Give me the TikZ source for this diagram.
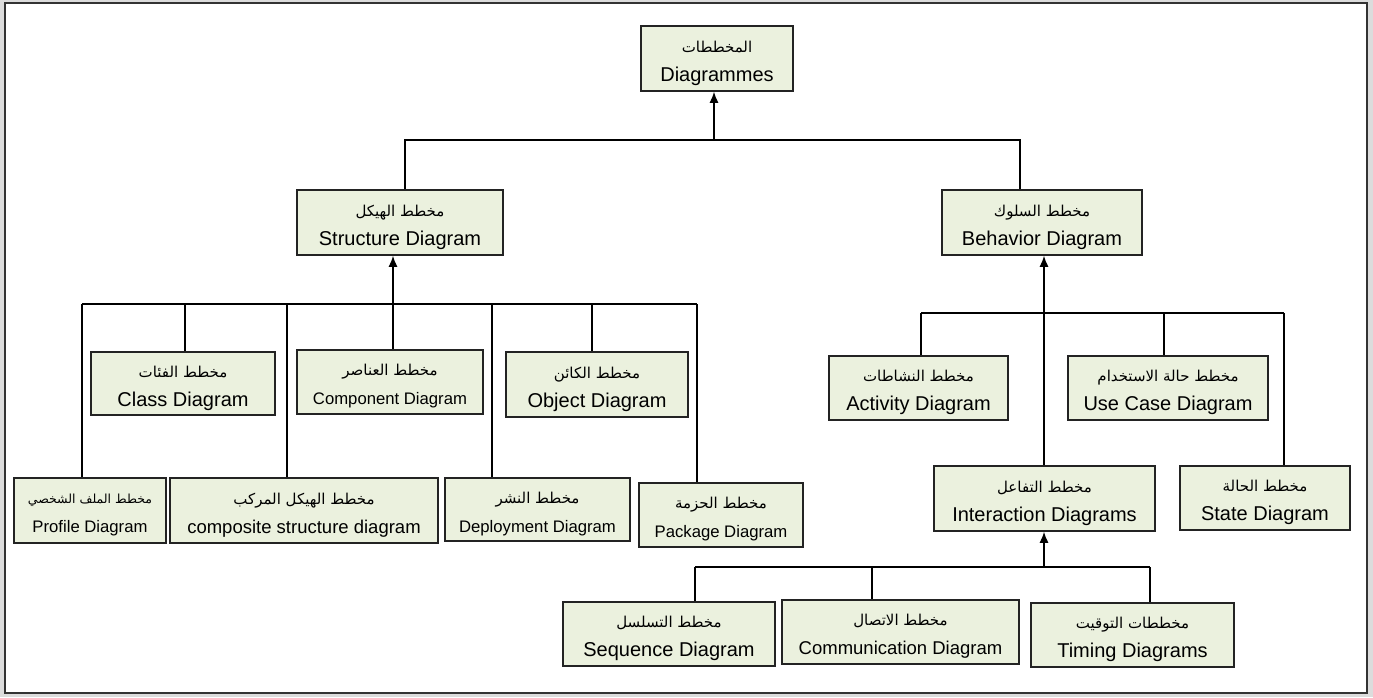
\documentclass[tikz,border=0pt]{standalone}
\usepackage{fontspec}
\setmainfont{Liberation Sans}
\newfontfamily\arfont[Script=Arabic]{DejaVu Sans}
\TeXXeTstate=1
\usetikzlibrary{arrows.meta}
\definecolor{boxfill}{RGB}{235,241,222}
\definecolor{boxline}{RGB}{35,35,35}
\definecolor{pagegray}{RGB}{220,220,220}
\newcommand{\bx}[4][15]{\raisebox{0pt}[\dimexpr\height+9pt\relax]{\arfont\fontsize{#1}{29}\selectfont\beginR #2\endR}\\{\fontsize{#4}{29}\selectfont #3}}
\tikzset{
  ubox/.style={draw=boxline, fill=boxfill, line width=1.6pt, inner sep=0pt, align=center, font=\fontsize{20}{29}\selectfont},
  conn/.style={draw=black, line width=1.3pt},
  arr/.style={conn, -{Latex[length=11pt,width=9pt]}}
}
\begin{document}
\begin{tikzpicture}[x=1pt,y=-1pt]
\useasboundingbox (0,0) rectangle (1373,697);
\fill[pagegray] (0,0) rectangle (1373,697);
\draw[fill=white, line width=1.5pt, draw=black!80] (5,3) rectangle (1367,693);

% nodes
\node[ubox, minimum width=152pt, minimum height=65pt] (diag) at (717,58.5) {\bx{المخططات}{Diagrammes}{20}};
\node[ubox, minimum width=206pt, minimum height=65pt] (struct) at (400,222.5) {\bx{مخطط الهيكل}{Structure Diagram}{20}};
\node[ubox, minimum width=200pt, minimum height=65pt] (behav) at (1042,222.5) {\bx{مخطط السلوك}{Behavior Diagram}{20}};

\node[ubox, minimum width=184pt, minimum height=63pt] (class) at (183,383.5) {\bx{مخطط الفئات}{Class Diagram}{20}};
\node[ubox, minimum width=186pt, minimum height=64pt] (comp) at (390,382) {\bx{مخطط العناصر}{Component Diagram}{16.7}};
\node[ubox, minimum width=182pt, minimum height=65pt] (obj) at (597,384.5) {\bx{مخطط الكائن}{Object Diagram}{20}};

\node[ubox, minimum width=152pt, minimum height=65pt] (prof) at (90,510.5) {\bx[12.5]{مخطط الملف الشخصي}{Profile Diagram}{16.7}};
\node[ubox, minimum width=268pt, minimum height=65pt] (compo) at (304,510.5) {\bx{مخطط الهيكل المركب}{composite structure diagram}{18.5}};
\node[ubox, minimum width=185pt, minimum height=63pt] (depl) at (537.5,509.5) {\bx{مخطط النشر}{Deployment Diagram}{16.7}};
\node[ubox, minimum width=164pt, minimum height=64pt] (pack) at (721,515) {\bx{مخطط الحزمة}{Package Diagram}{16.7}};

\node[ubox, minimum width=179pt, minimum height=64pt] (act) at (918.5,388) {\bx{مخطط النشاطات}{Activity Diagram}{20}};
\node[ubox, minimum width=200pt, minimum height=64pt] (use) at (1168,388) {\bx{مخطط حالة الاستخدام}{Use Case Diagram}{20}};
\node[ubox, minimum width=221pt, minimum height=65pt] (inter) at (1044.5,498.5) {\bx{مخطط التفاعل}{Interaction Diagrams}{20}};
\node[ubox, minimum width=170pt, minimum height=64pt] (state) at (1265,498) {\bx{مخطط الحالة}{State Diagram}{20}};

\node[ubox, minimum width=212pt, minimum height=64pt] (seq) at (669,634) {\bx{مخطط التسلسل}{Sequence Diagram}{20}};
\node[ubox, minimum width=237pt, minimum height=64pt] (comm) at (900.5,632) {\bx{مخطط الاتصال}{Communication Diagram}{18.5}};
\node[ubox, minimum width=203pt, minimum height=64pt] (tim) at (1132.5,635) {\bx{مخططات التوقيت}{Timing Diagrams}{20}};

% top level
\coordinate (t0) at (714,140);
\coordinate (tL) at (405,140);
\coordinate (tR) at (1020,140);
\draw[conn] (tL |- struct.north) -- (tL) -- (tR) -- (tR |- behav.north);
\draw[arr] (t0) -- (t0 |- diag.south);

% structure subtree
\coordinate (s0) at (393,304);
\coordinate (s1) at (82,304);
\coordinate (s2) at (185,304);
\coordinate (s3) at (287,304);
\coordinate (s4) at (492,304);
\coordinate (s5) at (592,304);
\coordinate (s6) at (697,304);
\draw[conn] (s1) -- (s6);
\draw[arr] (s0) -- (s0 |- struct.south);
\draw[conn] (s0) -- (s0 |- comp.north);
\draw[conn] (s1) -- (s1 |- prof.north);
\draw[conn] (s2) -- (s2 |- class.north);
\draw[conn] (s3) -- (s3 |- compo.north);
\draw[conn] (s4) -- (s4 |- depl.north);
\draw[conn] (s5) -- (s5 |- obj.north);
\draw[conn] (s6) -- (s6 |- pack.north);

% behavior subtree
\coordinate (b0) at (1044,313);
\coordinate (b1) at (921,313);
\coordinate (b2) at (1164,313);
\coordinate (b3) at (1284,313);
\draw[conn] (b1) -- (b3);
\draw[arr] (b0 |- inter.north) -- (b0 |- behav.south);
\draw[conn] (b1) -- (b1 |- act.north);
\draw[conn] (b2) -- (b2 |- use.north);
\draw[conn] (b3) -- (b3 |- state.north);

% interaction subtree
\coordinate (i0) at (1044,567);
\coordinate (i1) at (695,567);
\coordinate (i2) at (872,567);
\coordinate (i3) at (1150,567);
\draw[conn] (i1) -- (i3);
\draw[arr] (i0) -- (i0 |- inter.south);
\draw[conn] (i1) -- (i1 |- seq.north);
\draw[conn] (i2) -- (i2 |- comm.north);
\draw[conn] (i3) -- (i3 |- tim.north);
\end{tikzpicture}
\end{document}
